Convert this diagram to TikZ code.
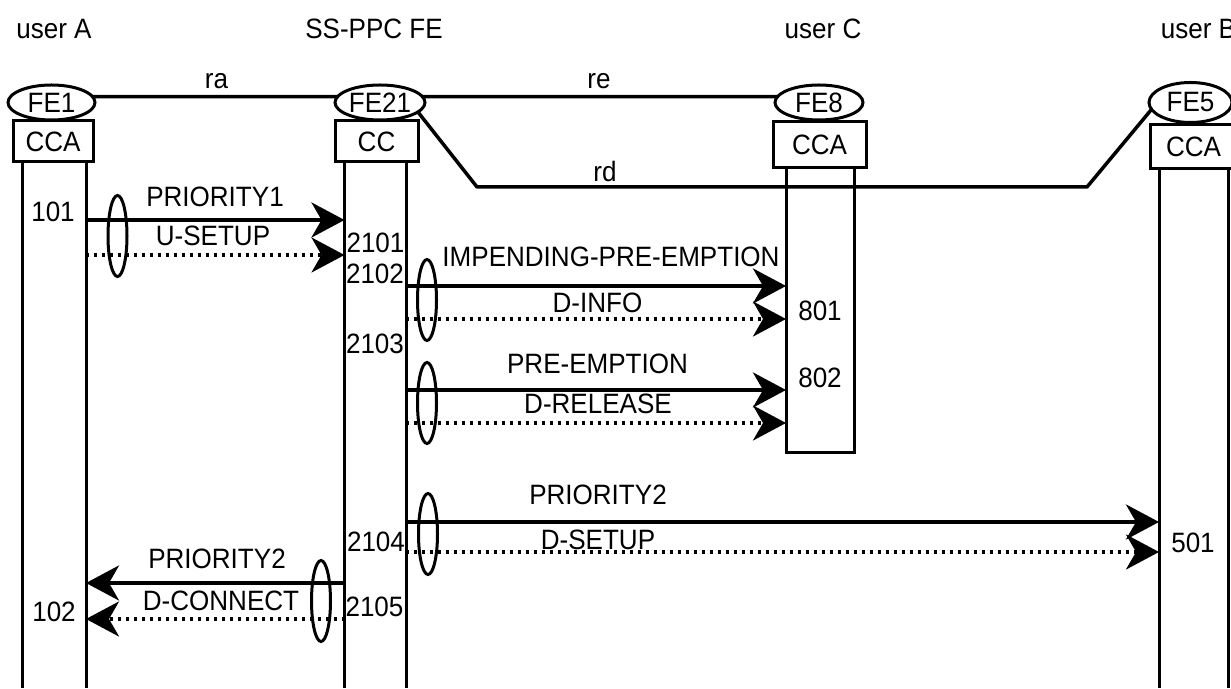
\documentclass[tikz,border=0pt]{standalone}
\usepackage{fontspec}
\setmainfont{Liberation Sans}[FakeStretch=0.93]
\usetikzlibrary{arrows.meta,shapes.geometric}
\begin{document}
\begin{tikzpicture}[x=1pt,y=1pt,
  txt/.style={inner sep=0pt,outer sep=0pt,font=\fontsize{28}{32}\selectfont},
  fe/.style={txt,draw=drawColor,ellipse,line width=3pt,minimum height=35pt},
  fc/.style={txt,draw=drawColor,rectangle,line width=3pt},
  life/.style={draw=drawColor,line width=3pt,line join=miter},
  ref/.style={draw=drawColor,line width=3.5pt,line join=round},
  msg/.style={draw=drawColor,line width=4pt,-{Stealth[length=33pt,width=35pt,inset=10pt]}},
  rsp/.style={msg,line width=3.5pt,dash pattern=on 3pt off 5pt},
  grp/.style={draw=drawColor,ellipse,line width=3pt,inner sep=0pt,outer sep=0pt,minimum width=19pt,minimum height=81pt}]
\definecolor{fillColor}{RGB}{255,255,255}
\definecolor{drawColor}{RGB}{0,0,0}
\path[use as bounding box,fill=fillColor] (0,0) rectangle (1231,688);
\begin{scope}
\node[txt] (userA) at (  54.0,659.0) {user A};

\node[txt] (sspc) at ( 374.0,659.0) {SS-PPC FE};

\node[txt] (userC) at ( 823.0,659.0) {user C};

\node[txt] (userB) at (1198.5,659.0) {user B};

\node[fe,minimum width=87pt] (fe1) at (  51.5,585.5) {FE1};

\node[fe,minimum width=90pt] (fe21) at ( 380.0,585.5) {FE21};

\node[fe,minimum width=88pt] (fe8) at ( 819.0,585.5) {FE8};

\node[fe,minimum width=83pt,minimum height=40pt] (fe5) at (1190.5,585.5) {FE5};

\node[fc,minimum width=80pt,minimum height=41pt] (cca1) at (  53.0,546.5) {CCA};

\node[fc,minimum width=83pt,minimum height=41pt] (cc21) at ( 376.5,546.5) {CC};

\node[fc,minimum width=93pt,minimum height=46pt] (cca8) at ( 819.5,543.0) {CCA};

\node[fc,minimum width=87pt,minimum height=44pt] (cca5) at (1193.5,541.0) {CCA};
\end{scope}
\begin{scope}
\coordinate (rd1) at ( 477.0,501.0);
\coordinate (rd2) at (1087.0,501.0);

\path[ref] (fe1.8) -- (fe21.172);

\path[ref] (fe21.8) -- (fe8.172);

\path[ref] (fe21.346) -- (rd1) -- (rd2) -- (fe5.190);

\node[txt] (ra) at ( 216.5,606.5) {ra};

\node[txt] (re) at ( 599.0,606.5) {re};

\node[txt] (rd) at ( 605.0,516.5) {rd};
\end{scope}
\begin{scope}
\path[life] (  22.0,526.0) -- (  22.0,  0.0);

\path[life] (  86.0,526.0) -- (  86.0,  0.0);

\path[life] ( 344.5,526.0) -- ( 344.5,  0.0);

\path[life] ( 406.0,526.0) -- ( 406.0,  0.0);

\path[life] ( 786.0,520.0) -- ( 786.0,235.0) -- ( 854.0,235.0) -- ( 854.0,520.0);

\path[life] (1159.0,519.0) -- (1159.0,  0.0);

\path[life] (1228.0,519.0) -- (1228.0,  0.0);
\end{scope}
\begin{scope}
\coordinate (a1) at (  86.0,468.0);
\coordinate (s1) at ( 344.5,468.0);
\coordinate (a2) at (  86.0,433.0);
\coordinate (s2) at ( 344.5,433.0);
\coordinate (s3) at ( 406.0,402.0);
\coordinate (c3) at ( 786.0,402.0);
\coordinate (s4) at ( 406.0,369.0);
\coordinate (c4) at ( 786.0,369.0);
\coordinate (s5) at ( 406.0,298.0);
\coordinate (c5) at ( 786.0,298.0);
\coordinate (s6) at ( 406.0,265.0);
\coordinate (c6) at ( 786.0,265.0);
\coordinate (s7) at ( 406.0,166.0);
\coordinate (b7) at (1159.0,166.0);
\coordinate (s8) at ( 406.0,136.0);
\coordinate (b8) at (1159.0,136.0);
\coordinate (s9) at ( 344.5,105.0);
\coordinate (a9) at (  86.0,105.0);
\coordinate (s10) at ( 344.5, 69.0);
\coordinate (a10) at (  86.0, 69.0);

\path[msg] (a1) -- (s1);

\path[rsp] (a2) -- (s2);

\path[msg] (s3) -- (c3);

\path[rsp] (s4) -- (c4);

\path[msg] (s5) -- (c5);

\path[rsp] (s6) -- (c6);

\path[msg] (s7) -- (b7);

\path[rsp] (s8) -- (b8);

\path[msg] (s9) -- (a9);

\path[rsp] (s10) -- (a10);

\node[grp] (g1) at ( 117.5,452.0) {};

\node[grp] (g2) at ( 427.0,388.0) {};

\node[grp] (g3) at ( 427.0,285.0) {};

\node[grp] (g4) at ( 428.0,154.0) {};

\node[grp] (g5) at ( 321.0, 87.0) {};
\end{scope}
\begin{scope}
\node[txt] (m1) at ( 215.0,491.0) {PRIORITY1};

\node[txt] (m2) at ( 213.0,452.0) {U-SETUP};

\node[txt] (m3) at ( 611.0,431.0) {IMPENDING-PRE-EMPTION};

\node[txt] (m4) at ( 597.5,385.0) {D-INFO};

\node[txt] (m5) at ( 597.5,324.0) {PRE-EMPTION};

\node[txt] (m6) at ( 598.0,284.0) {D-RELEASE};

\node[txt] (m7) at ( 598.0,193.0) {PRIORITY2};

\node[txt] (m8) at ( 598.0,148.0) {D-SETUP};

\node[txt] (m9) at ( 217.0,129.0) {PRIORITY2};

\node[txt] (m10) at ( 221.0, 87.0) {D-CONNECT};

\node[txt] (n101) at (  53.0,476.0) {101};

\node[txt] (n102) at (  54.0, 76.5) {102};

\node[txt] (n2101) at ( 375.5,445.5) {2101};

\node[txt] (n2102) at ( 375.0,414.0) {2102};

\node[txt] (n2103) at ( 375.0,344.0) {2103};

\node[txt] (n2104) at ( 376.0,146.0) {2104};

\node[txt] (n2105) at ( 374.5, 81.0) {2105};

\node[txt] (n801) at ( 820.0,377.0) {801};

\node[txt] (n802) at ( 820.0,310.5) {802};

\node[txt] (n501) at (1193.0,145.5) {501};
\end{scope}
\end{tikzpicture}
\end{document}
